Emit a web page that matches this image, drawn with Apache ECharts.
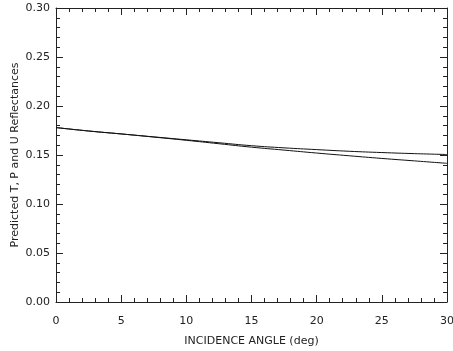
<!DOCTYPE html>
<html>
<head>
<meta charset="utf-8">
<script src="https://cdn.jsdelivr.net/npm/echarts@6/dist/echarts.min.js"></script>
<style>
  html, body { margin: 0; padding: 0; background: #fff; }
  #chart { width: 453px; height: 351px; }
</style>
</head>
<body>
<div id="chart"></div>
<script>
// incidence angle (deg) and predicted reflectances
const angles = [0, 2.5, 5, 7.5, 10, 12.5, 15, 17.5, 20, 22.5, 25, 27.5, 30];
const upperRefl = [0.178, 0.1745, 0.1715, 0.1685, 0.1655, 0.1625, 0.1595, 0.1573, 0.1555, 0.1538, 0.1525, 0.1514, 0.1505];
const lowerRefl = [0.178, 0.1745, 0.1715, 0.1683, 0.165, 0.1615, 0.158, 0.155, 0.152, 0.1492, 0.1465, 0.144, 0.1415];

const FONT = 'DejaVu Sans';
const INK = '#222';

const chart = echarts.init(document.getElementById('chart'));

const baseX = {
  type: 'value',
  min: 0,
  max: 30,
  interval: 5,
  axisLine: { show: true, onZero: false, lineStyle: { color: INK, width: 1 } },
  axisTick: { show: true, inside: true, length: 7, lineStyle: { color: INK } },
  minorTick: { show: true, splitNumber: 5, length: 4, lineStyle: { color: INK } },
  splitLine: { show: false },
};

const baseY = {
  type: 'value',
  min: 0,
  max: 0.3,
  interval: 0.05,
  axisLine: { show: true, onZero: false, lineStyle: { color: INK, width: 1 } },
  axisTick: { show: true, inside: true, length: 7, lineStyle: { color: INK } },
  minorTick: { show: true, splitNumber: 5, length: 4, lineStyle: { color: INK } },
  splitLine: { show: false },
};

const toPairs = (ys) => angles.map((a, i) => [a, ys[i]]);

chart.setOption({
  animation: false,
  backgroundColor: '#fff',
  grid: {
    left: 56, top: 8, right: 6, bottom: 49,
    containLabel: false,
    outerBoundsMode: 'none',
  },
  xAxis: [
    Object.assign({}, baseX, {
      position: 'bottom',
      name: 'INCIDENCE ANGLE (deg)',
      nameLocation: 'middle',
      nameGap: 34,
      nameMoveOverlap: false,
      nameTextStyle: { fontFamily: FONT, fontSize: 11, color: INK },
      axisLabel: { margin: 14, fontFamily: FONT, fontSize: 11, color: INK },
    }),
    Object.assign({}, baseX, { position: 'top', axisLabel: { show: false } }),
  ],
  yAxis: [
    Object.assign({}, baseY, {
      position: 'left',
      name: 'Predicted T, P and U Reflectances',
      nameLocation: 'middle',
      nameGap: 35,
      nameMoveOverlap: false,
      nameTextStyle: { fontFamily: FONT, fontSize: 11, color: INK },
      axisLabel: {
        margin: 6,
        fontFamily: FONT,
        fontSize: 11,
        color: INK,
        formatter: (v) => v.toFixed(2),
      },
    }),
    Object.assign({}, baseY, { position: 'right', axisLabel: { show: false } }),
  ],
  series: [
    {
      name: 'upper',
      type: 'line',
      data: toPairs(upperRefl),
      smooth: true,
      showSymbol: false,
      lineStyle: { color: '#111', width: 1 },
    },
    {
      name: 'lower',
      type: 'line',
      data: toPairs(lowerRefl),
      smooth: true,
      showSymbol: false,
      lineStyle: { color: '#111', width: 1 },
    },
  ],
});
</script>
</body>
</html>
